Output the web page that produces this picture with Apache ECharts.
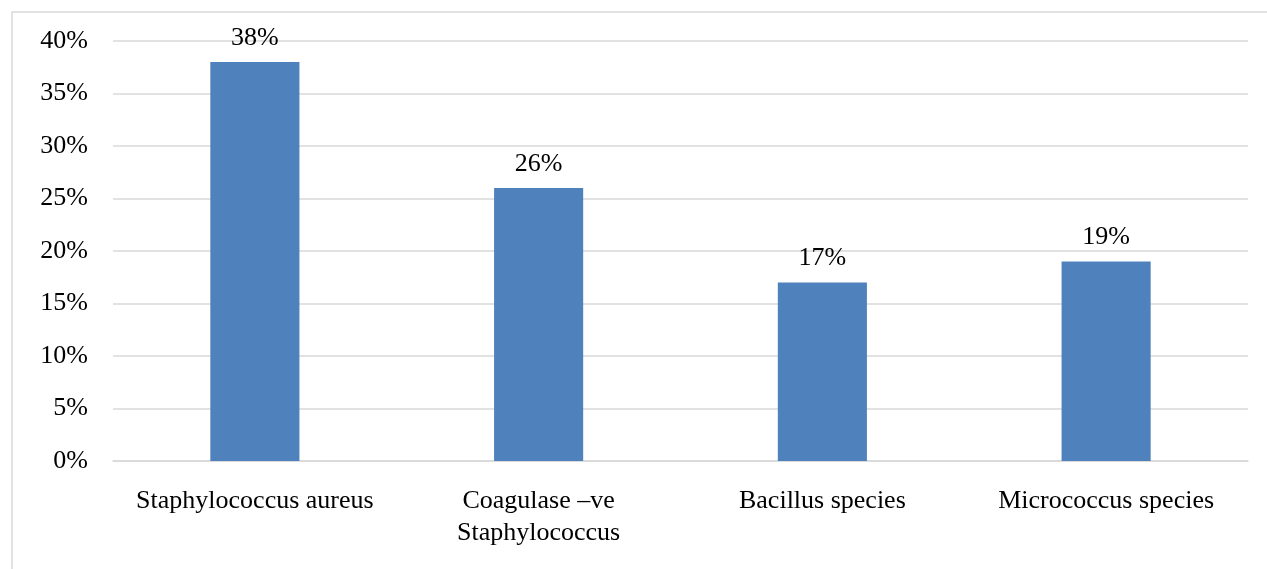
<!DOCTYPE html>
<html>
<head>
<meta charset="utf-8">
<script src="https://cdn.jsdelivr.net/npm/echarts@6/dist/echarts.min.js"></script>
<style>
  html, body { margin: 0; padding: 0; background: #fff; }
  #chart { width: 1267px; height: 569px; }
</style>
</head>
<body>
<div id="chart"></div>
<script>
// Organisms isolated and their share of isolates (%)
const categories = [
  'Staphylococcus aureus',
  'Coagulase \u2013ve\nStaphylococcus',
  'Bacillus species',
  'Micrococcus species'
];
const percentages = [38, 26, 17, 19];
const yTicks = { min: 0, max: 40, interval: 5 };

const fontFamily = '"Liberation Serif", "Times New Roman", serif';
const chart = echarts.init(document.getElementById('chart'));

chart.setOption({
  backgroundColor: '#fff',
  animation: false,
  textStyle: { fontFamily: fontFamily },
  graphic: [{
    type: 'rect',
    shape: { x: 12, y: 12, width: 1300, height: 600 },
    style: { fill: 'none', stroke: '#d9d9d9', lineWidth: 1.5 },
    silent: true,
    z: -1
  }],
  grid: { left: 113, right: 19, top: 41, bottom: 108, containLabel: false },
  xAxis: {
    type: 'category',
    data: categories,
    axisLine: { show: true, lineStyle: { color: '#d9d9d9', width: 1.5 } },
    axisTick: { show: false },
    axisLabel: {
      color: '#000', fontSize: 26, fontFamily: fontFamily,
      margin: 24, lineHeight: 32, interval: 0
    }
  },
  yAxis: {
    type: 'value',
    min: yTicks.min, max: yTicks.max, interval: yTicks.interval,
    axisLine: { show: false },
    axisTick: { show: false },
    splitLine: { lineStyle: { color: '#d9d9d9', width: 1.5 } },
    axisLabel: {
      color: '#000', fontSize: 26, fontFamily: fontFamily,
      margin: 25, formatter: '{value}%'
    }
  },
  series: [{
    type: 'bar',
    data: percentages,
    barWidth: '31.4%',
    itemStyle: { color: '#4f81bd' },
    label: {
      show: true, position: 'top', distance: 11,
      color: '#000', fontSize: 26, fontFamily: fontFamily,
      formatter: '{c}%'
    }
  }]
});
</script>
</body>
</html>
